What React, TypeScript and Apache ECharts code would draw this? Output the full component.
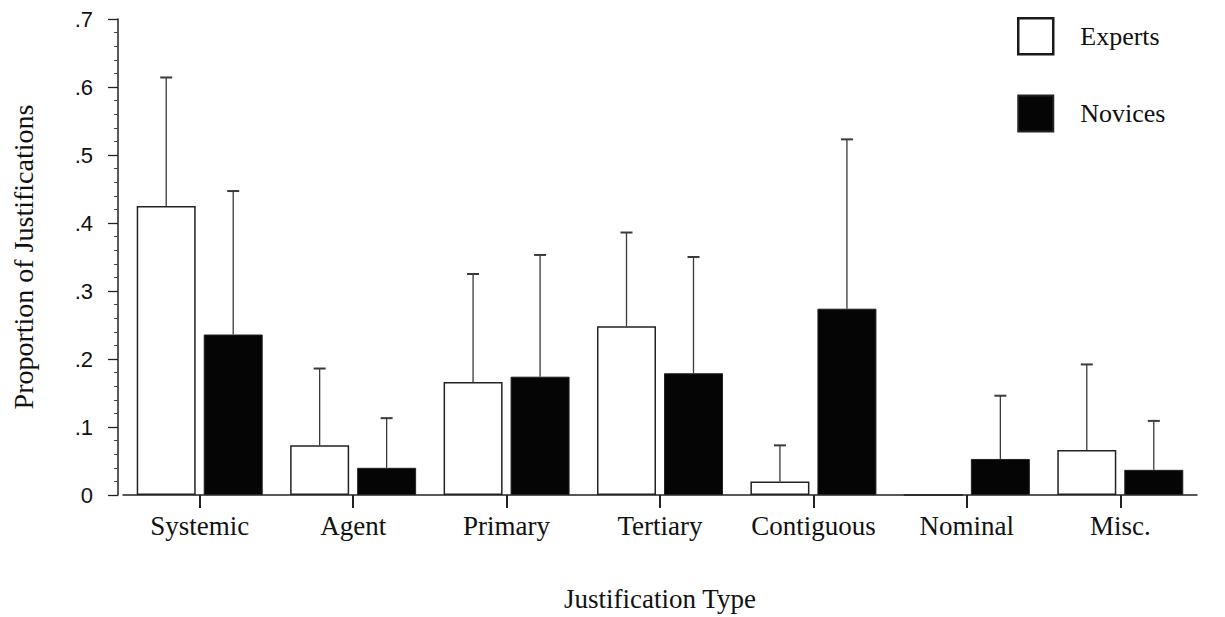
import React, { useEffect, useRef } from "react";
import * as echarts from "echarts";

const categories = ["Systemic", "Agent", "Primary", "Tertiary", "Contiguous", "Nominal", "Misc."];
const expertsMean = [0.425, 0.073, 0.166, 0.248, 0.02, 0, 0.066];
const expertsUpper: (number | null)[] = [0.614, 0.186, 0.325, 0.386, 0.073, null, 0.192];
const novicesMean = [0.236, 0.04, 0.174, 0.179, 0.274, 0.053, 0.037];
const novicesUpper = [0.447, 0.113, 0.353, 0.35, 0.523, 0.146, 0.109];
const yTickLabels = ["0", ".1", ".2", ".3", ".4", ".5", ".6", ".7"];

const BAR_W = 59;
const BAR_GAP = 8;

function errorData(means: number[], uppers: (number | null)[]) {
  return means
    .map((m, i) => (uppers[i] == null ? null : [i, m, uppers[i]]))
    .filter((d) => d !== null);
}

function makeRender(sign: number) {
  return (params: any, api: any) => {
    const idx = api.value(0);
    const base = api.coord([idx, api.value(1)]);
    const top = api.coord([idx, api.value(2)]);
    const x = base[0] + sign * (BAR_W / 2 + BAR_GAP / 2);
    const style = { stroke: "#3a3a3a", lineWidth: 1.3 };
    return {
      type: "group",
      children: [
        { type: "line", shape: { x1: x, y1: base[1], x2: x, y2: top[1] }, style },
        { type: "line", shape: { x1: x - 6, y1: top[1], x2: x + 6, y2: top[1] }, style: { stroke: "#3a3a3a", lineWidth: 2 } },
      ],
    };
  };
}

export default function App() {
  const ref = useRef<HTMLDivElement>(null);
  useEffect(() => {
    if (!ref.current) return;
    const chart = echarts.init(ref.current, null, { renderer: "svg" });
    const serif = "Liberation Serif, Times New Roman, serif";
    chart.setOption({
      animation: false,
      backgroundColor: "#ffffff",
      textStyle: { fontFamily: serif, color: "#111" },
      grid: { left: 123, right: 28, top: 19, bottom: 120 },
      legend: {
        orient: "vertical",
        left: 1017,
        top: 17,
        padding: 0,
        itemWidth: 35,
        itemHeight: 36,
        itemGap: 39,
        icon: "rect",
        textStyle: { fontFamily: serif, fontSize: 26, color: "#111", padding: [0, 0, 0, 22] },
        data: [
          { name: "Experts", itemStyle: { borderWidth: 2.5, borderColor: "#1a1a1a" } },
          { name: "Novices" },
        ],
      },
      xAxis: {
        type: "category",
        data: categories,
        axisLine: { lineStyle: { color: "#222", width: 1.5 } },
        axisTick: { show: true, alignWithLabel: true, length: 13, lineStyle: { color: "#222", width: 2 } },
        axisLabel: { fontFamily: serif, fontSize: 27, color: "#111", margin: 17, interval: 0, hideOverlap: false },
        name: "Justification Type",
        nameLocation: "middle",
        nameGap: 90,
        nameTextStyle: { fontFamily: serif, fontSize: 27, color: "#111" },
      },
      yAxis: {
        type: "value",
        min: 0,
        max: 0.7,
        interval: 0.1,
        offset: 5,
        axisLine: { show: true, lineStyle: { color: "#222", width: 1.5 } },
        axisTick: { show: true, length: 10, lineStyle: { color: "#222", width: 1.3 } },
        minorTick: { show: true, splitNumber: 5, length: 4, lineStyle: { color: "#444", width: 1 } },
        splitLine: { show: false },
        axisLabel: {
          fontFamily: "Liberation Sans, Arial, sans-serif",
          fontSize: 22,
          color: "#111",
          margin: 25,
          formatter: (v: number) => yTickLabels[Math.round(v * 10)] ?? "",
        },
        name: "Proportion of Justifications",
        nameLocation: "middle",
        nameGap: 81,
        nameRotate: 90,
        nameTextStyle: { fontFamily: serif, fontSize: 28, color: "#111" },
      },
      series: [
        {
          name: "Experts",
          type: "bar",
          data: expertsMean,
          barWidth: BAR_W,
          barGap: (BAR_GAP / BAR_W) * 100 + "%",
          itemStyle: { color: "#ffffff", borderColor: "#222", borderWidth: 1.5 },
        },
        {
          name: "Novices",
          type: "bar",
          data: novicesMean,
          barWidth: BAR_W,
          itemStyle: { color: "#050505", borderColor: "#222", borderWidth: 1 },
        },
        {
          type: "custom",
          name: "Experts err",
          renderItem: makeRender(-1),
          data: errorData(expertsMean, expertsUpper),
          encode: { x: 0, y: [1, 2] },
          z: 3,
        },
        {
          type: "custom",
          name: "Novices err",
          renderItem: makeRender(1),
          data: errorData(novicesMean, novicesUpper),
          encode: { x: 0, y: [1, 2] },
          z: 3,
        },
      ],
    });
    return () => chart.dispose();
  }, []);
  return <div ref={ref} style={{ position: "absolute", left: 0, top: 0, width: 1225, height: 617 }} />;
}
